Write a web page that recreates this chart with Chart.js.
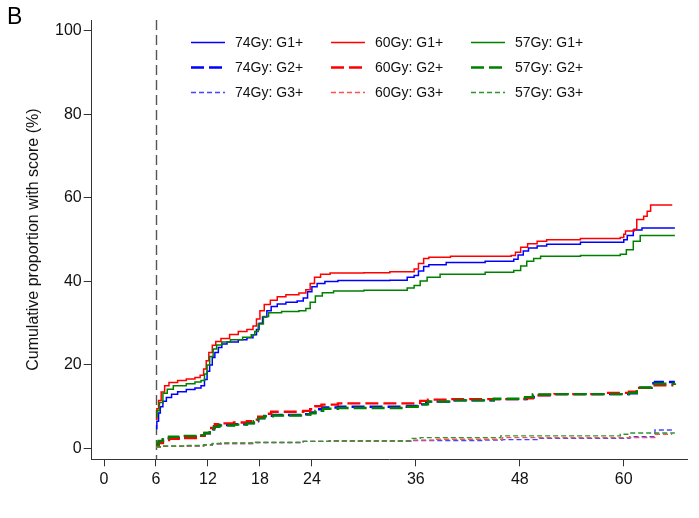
<!DOCTYPE html>
<html>
<head>
<meta charset="utf-8">
<script src="https://cdn.jsdelivr.net/npm/chart.js@4/dist/chart.umd.min.js"></script>
<style>
  html, body { margin: 0; padding: 0; background: #fff; }
  canvas { display: block; }
</style>
</head>
<body>
<canvas id="c" width="699" height="518"></canvas>
<script>
// Cumulative incidence (%) by month, as [month, percent] steps.
const g1_74 = [[6.0,4.8],[6.1,6.5],[6.3,8.5],[6.5,10],[6.8,11.3],[7.2,12.2],[7.8,13],[8.5,13.6],[9.5,14.1],[10.5,14.5],[11.2,15],[11.6,16.5],[11.9,18.5],[12.2,20],[12.5,21.8],[12.8,23],[13.2,24.2],[13.6,25],[14.2,25.5],[15.5,26],[16.5,26.5],[17.2,27.2],[17.6,28.5],[17.9,30],[18.3,31.5],[18.8,33],[19.3,34],[20,34.6],[21,35],[22.3,35.3],[23,36],[23.5,37.5],[24,38.7],[24.6,39.5],[25.5,40],[27,40.2],[33,40.3],[35,41],[35.8,41.4],[36.3,42.5],[36.9,43.6],[37.5,44],[39.5,44.5],[44,44.8],[47.3,45.3],[47.8,46.3],[48.4,47.3],[49,48],[50,48.5],[51.1,48.9],[55,49.4],[60,50],[60.4,51],[61.1,52.3],[62.1,52.8],[65.9,52.8]];
const g1_60 = [[6.0,7],[6.1,9.5],[6.3,11.5],[6.6,13.5],[7,15],[7.5,15.8],[8.5,16.3],[9.5,16.6],[10.5,17],[11.1,17.5],[11.5,19],[11.8,21],[12.1,23],[12.5,24.7],[12.9,25.6],[13.5,26.3],[14.5,27.3],[15.5,28],[16.5,28.5],[17.2,29.3],[17.6,31],[18,33],[18.5,34.5],[19.2,35.5],[20,36.3],[21,36.8],[22.5,37.2],[23.3,38],[23.8,39.5],[24.3,41],[25,41.7],[26.1,42],[30,42.1],[33,42.3],[35.8,43],[36.3,44.3],[36.9,45.5],[37.5,45.8],[40,46],[47,46.2],[47.5,47],[48.1,48.2],[48.9,49],[50,49.6],[51.1,50],[55,50.3],[59.6,50.5],[60,51.3],[60.2,52.1],[61.2,52.5],[61.5,54.8],[62.3,55.6],[62.7,56.8],[63.1,58.3],[65.6,58.3]];
const g1_57 = [[6.0,7.5],[6.1,9],[6.4,11],[6.8,13.2],[7.3,14.2],[8,15],[9.5,15.5],[10.5,15.9],[11.2,16.3],[11.6,17.8],[11.9,20],[12.2,22],[12.6,23.8],[13,24.8],[13.6,25.5],[14.6,26],[16,26.6],[17,27.2],[17.4,28],[17.8,29.8],[18.4,31.6],[19,32.5],[20.5,32.8],[22.5,33],[23.3,33.5],[23.8,35],[24.4,36.5],[25.2,37.3],[26.5,37.7],[30,37.9],[35,38.4],[35.8,39],[36.5,40.1],[37.3,41],[38.8,41.7],[44,42.2],[47.3,42.6],[48.1,43.7],[48.8,44.8],[49.6,45.5],[50.4,46],[55,46.2],[59.6,46.5],[60.3,47.6],[61.1,49.6],[61.9,51],[65.9,51]];

const g2_74 = [[6,0.8],[6.3,1.5],[6.8,2.2],[7.5,2.5],[9,2.7],[11,3.1],[11.6,3.6],[12.2,4.6],[12.7,5.3],[13.3,5.6],[15,5.8],[16.5,6.1],[17.3,6.5],[17.8,7.3],[18.5,7.8],[19.5,8],[23,8.2],[23.8,8.6],[24.4,9.4],[25.2,9.8],[27,10],[35,10.2],[36.2,10.6],[37.2,11.2],[40,11.5],[45,11.8],[48.8,12.2],[49.6,12.8],[52,13],[60.6,13.2],[61.5,14.5],[63.2,15.6],[63.6,15.9],[65.9,15.9]];
const g2_60 = [[6,0.6],[6.3,1.3],[6.8,2],[7.5,2.3],[9,2.5],[11,3],[11.6,3.7],[12.2,4.9],[12.8,5.8],[13.5,6],[15,6.2],[16.5,6.5],[17.3,6.9],[17.8,7.6],[18.5,8.3],[19.3,8.8],[23,9],[23.8,9.4],[24.4,10.1],[25.1,10.5],[27,10.8],[36,10.9],[36.5,11.4],[37.4,11.7],[40,11.8],[48.6,12],[49.5,12.7],[52,13],[58,13.3],[60.6,13.6],[61.5,14.5],[63,15.1],[65.6,15.2]];
const g2_57 = [[6,1],[6.3,1.8],[6.8,2.5],[7.5,2.8],[9,3],[11,3.2],[11.6,3.7],[12.2,4.6],[12.7,5.2],[13.3,5.5],[15,5.7],[16.5,6],[17.3,6.5],[17.8,7.2],[18.5,7.7],[19.5,7.9],[23,8.1],[23.8,8.4],[24.4,9],[25.3,9.5],[27,9.7],[35,10],[36.2,10.6],[37.4,11.2],[40,11.5],[45,11.9],[48.6,12.3],[49.5,12.9],[52,13],[60.6,13.3],[61.5,14.6],[63.2,15.5],[65.9,15.6]];

const g3_74 = [[6,0.3],[6.5,0.5],[9.5,0.6],[11.5,0.8],[12.5,1.1],[13.5,1.2],[17.5,1.4],[23,1.7],[26,1.8],[35.4,1.9],[44,2.0],[46,2.1],[50,2.4],[60.7,2.8],[63.6,4.4],[65.9,4.4]];
const g3_60 = [[6,0.3],[6.5,0.5],[9.5,0.6],[11.5,0.8],[12.5,1.1],[13.5,1.2],[17.5,1.4],[23,1.7],[26,1.8],[35.4,2.0],[38,2.2],[46,2.6],[63.6,3.4],[65.6,3.4]];
const g3_57 = [[6,0.4],[6.5,0.6],[9.5,0.7],[11.5,0.9],[12.5,1.2],[13.5,1.3],[17.5,1.5],[23,1.7],[26,1.8],[35.4,2.4],[36.5,2.6],[45.8,3.0],[59.2,3.0],[59.6,3.4],[60.7,3.7],[65.9,3.7]];

const xTicks = [0, 6, 12, 18, 24, 36, 48, 60];
const yTicks = [0, 20, 40, 60, 80, 100];
const doseLabels = ['74Gy', '60Gy', '57Gy'];
const gradeLabels = ['G1+', 'G2+', 'G3+'];
const baselineMonth = 6;

const FONT = 'Arial, "Liberation Sans", Helvetica, sans-serif';
const doseColors = ['#0000ff', '#ff0000', '#008000'];
const doseColorsLight = ['#4646ff', '#ff5050', '#2e962e'];
const gradeStyle = [
  { width: 1.5, dash: [] },
  { width: 2.4, dash: [13, 5] },
  { width: 1.4, dash: [5, 3] }
];

const series = [g1_74, g1_60, g1_57, g2_74, g2_60, g2_57, g3_74, g3_60, g3_57];

const datasets = series.map((pts, i) => {
  const dose = i % 3, grade = Math.floor(i / 3);
  return {
    label: doseLabels[dose] + ': ' + gradeLabels[grade],
    data: pts.map(p => ({ x: p[0], y: p[1] })),
    borderColor: grade === 2 ? doseColorsLight[dose] : doseColors[dose],
    borderWidth: gradeStyle[grade].width,
    borderDash: gradeStyle[grade].dash,
    stepped: true,
    pointRadius: 0,
    fill: false,
    order: 10 - i
  };
});

// Panel letter, baseline marker and in-plot legend
const decorations = {
  id: 'decorations',
  beforeDatasetsDraw(chart) {
    const { ctx, chartArea, scales } = chart;
    const x = Math.round(scales.x.getPixelForValue(baselineMonth)) + 0.5;
    ctx.save();
    ctx.strokeStyle = '#555';
    ctx.lineWidth = 1.4;
    ctx.setLineDash([10, 5]);
    ctx.beginPath();
    ctx.moveTo(x, chartArea.top);
    ctx.lineTo(x, chartArea.bottom);
    ctx.stroke();
    ctx.restore();
  },
  afterDraw(chart) {
    const { ctx } = chart;
    ctx.save();
    ctx.fillStyle = '#000';
    ctx.font = '23px ' + FONT;
    ctx.textBaseline = 'alphabetic';
    ctx.textAlign = 'left';
    ctx.fillText('B', 7, 24);

    const colX = [191, 331, 471];
    const rowY = [42, 67, 92];
    ctx.font = '14px ' + FONT;
    ctx.textBaseline = 'middle';
    chart.data.datasets.forEach((ds, i) => {
      const c = i % 3, r = Math.floor(i / 3);
      const x0 = colX[c], y = rowY[r] + 0.5;
      ctx.strokeStyle = ds.borderColor;
      ctx.lineWidth = ds.borderWidth;
      ctx.setLineDash(ds.borderDash);
      ctx.beginPath();
      ctx.moveTo(x0, y);
      ctx.lineTo(x0 + 34, y);
      ctx.stroke();
      ctx.setLineDash([]);
      ctx.fillStyle = '#111';
      ctx.fillText(ds.label, x0 + 44, y + 1);
    });
    ctx.restore();
  }
};

new Chart(document.getElementById('c'), {
  type: 'line',
  data: { datasets },
  plugins: [decorations],
  options: {
    responsive: false,
    devicePixelRatio: 1,
    animation: false,
    layout: { padding: { top: 20, right: 12, left: 0, bottom: 0 } },
    plugins: { legend: { display: false }, tooltip: { enabled: false } },
    scales: {
      x: {
        type: 'linear',
        min: -1.42,
        max: 67.3,
        afterBuildTicks: s => { s.ticks = xTicks.map(v => ({ value: v })); },
        afterFit: s => { s.height = 58.7; },
        grid: { drawOnChartArea: false, drawTicks: true, tickLength: 7, color: '#333', lineWidth: 1 },
        border: { display: true, color: '#333', width: 1 },
        ticks: { color: '#111', font: { family: FONT, size: 16 }, padding: 4, maxRotation: 0, autoSkip: false }
      },
      y: {
        min: -2.6,
        max: 102.6,
        afterBuildTicks: s => { s.ticks = yTicks.map(v => ({ value: v })); },
        afterFit: s => { s.width = 91.7; },
        grid: { drawOnChartArea: false, drawTicks: true, tickLength: 8, color: '#333', lineWidth: 1 },
        border: { display: true, color: '#333', width: 1 },
        ticks: { color: '#111', font: { family: FONT, size: 16 }, padding: 2, autoSkip: false },
        title: {
          display: true,
          text: 'Cumulative proportion with score (%)',
          color: '#111',
          font: { family: FONT, size: 16 },
          padding: { top: 24, bottom: 0 }
        }
      }
    }
  }
});
</script>
</body>
</html>
